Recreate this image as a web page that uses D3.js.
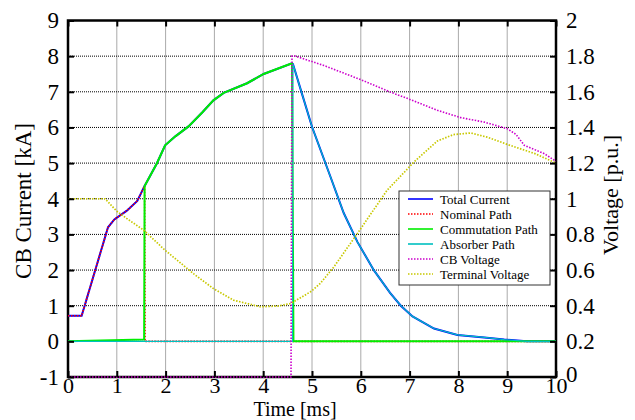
<!DOCTYPE html>
<html>
<head>
<meta charset="utf-8">
<script src="https://cdn.jsdelivr.net/npm/d3@7"></script>
<style>
  body { margin: 0; background: #fff; }
  svg { display: block; }
</style>
</head>
<body>
<div id="chart"></div>
<script>
// fáze 1: proud přes nominální cestu (ms, kA)
const nominalTime    = [0, 0.28, 0.82, 0.95, 1.2, 1.42, 1.57];
const nominalCurrent = [0.72, 0.72, 3.2, 3.42, 3.66, 3.94, 4.36];
// fáze 2: komutační cesta
const commTime    = [1.57, 1.82, 1.99, 2.2, 2.47, 2.75, 2.98, 3.19, 3.67, 4.01, 4.59];
const commCurrent = [4.36, 4.99, 5.5, 5.75, 6.03, 6.42, 6.76, 6.97, 7.24, 7.5, 7.8];
// fáze 3: absorbér
const absTime    = [4.61, 4.8, 5.0, 5.38, 5.65, 5.93, 6.27, 6.6, 6.82, 7.06, 7.5, 7.98, 8.53, 8.94, 9.4, 10];
const absCurrent = [7.78, 6.92, 6.02, 4.61, 3.6, 2.79, 1.99, 1.36, 1.0, 0.7, 0.36, 0.18, 0.11, 0.05, 0.0, 0];
// napětí (p.u.)
const cbTime    = [0, 4.57, 4.59, 4.66, 5.24, 6.0, 6.61, 7.02, 7.57, 8.05, 8.53, 9.0, 9.18, 9.35, 9.76, 10];
const cbVoltage = [0, 0, 1.8, 1.8, 1.748, 1.668, 1.598, 1.556, 1.496, 1.455, 1.43, 1.393, 1.361, 1.3, 1.253, 1.21];
const termTime    = [0, 0.76, 1.0, 1.2, 1.55, 1.99, 2.57, 2.98, 3.39, 3.94, 4.3, 4.56, 4.97, 5.17, 5.45, 5.93, 6.54, 7.09, 7.57, 7.9, 8.25, 8.6, 9.0, 9.57, 10];
const termVoltage = [1, 1, 0.93, 0.89, 0.824, 0.711, 0.58, 0.496, 0.431, 0.394, 0.398, 0.412, 0.478, 0.525, 0.618, 0.805, 1.048, 1.206, 1.324, 1.36, 1.369, 1.345, 1.305, 1.253, 1.2];

const xTicks = d3.range(0, 11);
const yLeftTicks = d3.range(-1, 10);
const yRightTicks = [0, 0.2, 0.4, 0.6, 0.8, 1, 1.2, 1.4, 1.6, 1.8, 2];
const legendNames = ["Total Current", "Nominal Path", "Commutation Path", "Absorber Path", "CB Voltage", "Terminal Voltage"];

const W = 635, H = 420;
const mLeft = 68, mRight = 556, mTop = 20.5, mBottom = 377;
const FONT = "Liberation Serif, Times New Roman, DejaVu Serif, serif";

const zip = (t, v) => t.map((d, i) => [d, v[i]]);

// sestavení sérií
const totalSeries = zip(nominalTime, nominalCurrent)
  .concat(zip(commTime, commCurrent).slice(1))
  .concat(zip(absTime, absCurrent));
const nominalSeries = zip(nominalTime, nominalCurrent).concat([[1.58, 0], [10, 0]]);
const commSeries = [[0, 0], [1.56, 0.05]].concat(zip(commTime, commCurrent)).concat([[4.62, 0], [10, 0]]);
const absSeries = [[0, 0], [4.6, 0]].concat(zip(absTime, absCurrent));
const cbSeries = zip(cbTime, cbVoltage);
const termSeries = zip(termTime, termVoltage);

const X = d3.scaleLinear().domain([0, 10]).range([mLeft, mRight]);
const YL = d3.scaleLinear().domain([-1, 9]).range([mBottom, mTop]);
const YR = d3.scaleLinear().domain([0, 2]).range([mBottom, mTop]);

const svg = d3.select("#chart").append("svg")
  .attr("width", W)
  .attr("height", H)
  .attr("font-family", FONT);

// mřížka
const grid = svg.append("g");
grid.selectAll("line.gx")
  .data(xTicks.slice(1, -1))
  .join("line")
  .attr("class", "gx")
  .attr("x1", d => X(d)).attr("x2", d => X(d))
  .attr("y1", mTop).attr("y2", mBottom)
  .attr("stroke", "#555").attr("stroke-width", 1)
  .attr("stroke-dasharray", "1,1");
grid.selectAll("line.gy")
  .data(yLeftTicks.slice(1, -1))
  .join("line")
  .attr("class", "gy")
  .attr("x1", mLeft).attr("x2", mRight)
  .attr("y1", d => YL(d)).attr("y2", d => YL(d))
  .attr("stroke", "#000").attr("stroke-width", 1)
  .attr("stroke-dasharray", "1,1");

// rámeček
svg.append("rect")
  .attr("x", mLeft).attr("y", mTop)
  .attr("width", mRight - mLeft).attr("height", mBottom - mTop)
  .attr("fill", "none").attr("stroke", "#000").attr("stroke-width", 2.5);

const lineL = d3.line().x(d => X(d[0])).y(d => YL(d[1]));
const lineR = d3.line().x(d => X(d[0])).y(d => YR(d[1]));

const series = [
  { d: totalSeries, f: lineL, color: "#0000ff", w: 2, dash: null },
  { d: nominalSeries, f: lineL, color: "#ff0000", w: 1.6, dash: "1.5,1.5" },
  { d: commSeries, f: lineL, color: "#00ee00", w: 2, dash: null },
  { d: absSeries, f: lineL, color: "#00c0c0", w: 1.2, dash: null },
  { d: cbSeries, f: lineR, color: "#cc00cc", w: 1.6, dash: "1.5,1.5" },
  { d: termSeries, f: lineR, color: "#c8c800", w: 1.7, dash: "1.5,1.5" }
];

svg.append("g").selectAll("path")
  .data(series)
  .join("path")
  .attr("d", s => s.f(s.d))
  .attr("fill", "none")
  .attr("stroke", s => s.color)
  .attr("stroke-width", s => s.w)
  .attr("stroke-dasharray", s => s.dash);

// osy
const fmt = d => String(d);
const axL = svg.append("g").attr("transform", `translate(${mLeft},0)`)
  .call(d3.axisLeft(YL).tickValues(yLeftTicks).tickFormat(fmt).tickSize(-6).tickPadding(9).tickSizeOuter(0));
const axR = svg.append("g").attr("transform", `translate(${mRight},0)`)
  .call(d3.axisRight(YR).tickValues(yRightTicks).tickFormat(fmt).tickSize(-6).tickPadding(10).tickSizeOuter(0));
const axB = svg.append("g").attr("transform", `translate(0,${mBottom})`)
  .call(d3.axisBottom(X).tickValues(xTicks).tickFormat(fmt).tickSize(-6).tickPadding(2).tickSizeOuter(0));
const axT = svg.append("g").attr("transform", `translate(0,${mTop})`)
  .call(d3.axisTop(X).tickValues(xTicks).tickSize(-6).tickFormat("").tickSizeOuter(0));

[axL, axR, axB, axT].forEach(a => {
  a.attr("font-family", FONT).attr("font-size", 23);
  a.select(".domain").remove();
  a.selectAll(".tick line").attr("stroke", "#000").attr("stroke-width", 2);
  a.selectAll("text").attr("fill", "#000");
});
axB.attr("font-size", 22);
axB.selectAll("text").attr("dy", "0.64em");
axR.selectAll(".tick").filter(d => d === 0).select("text").attr("dy", "0.2em");

// popisky os
const label = (tr, txt, size) => svg.append("text")
  .attr("transform", tr)
  .attr("text-anchor", "middle")
  .attr("font-size", size)
  .attr("fill", "#000")
  .text(txt);
label("translate(31,201) rotate(-90)", "CB Current [kA]", 23);
label("translate(618,195) rotate(-90)", "Voltage [p.u.]", 22);
label("translate(295,415.5)", "Time [ms]", 20);

// legenda
const lg = svg.append("g").attr("transform", "translate(399,191)");
lg.append("rect")
  .attr("width", 151).attr("height", 94)
  .attr("fill", "#fff").attr("stroke", "#333").attr("stroke-width", 1);
const items = lg.selectAll("g.item")
  .data(series)
  .join("g")
  .attr("class", "item")
  .attr("transform", (d, i) => `translate(0,${8 + i * 15})`);
items.append("line")
  .attr("x1", 9).attr("x2", 34)
  .attr("stroke", s => s.color)
  .attr("stroke-width", 1.6)
  .attr("stroke-dasharray", s => s.dash);
items.append("text")
  .attr("x", 41).attr("dy", "0.35em")
  .attr("font-size", 13)
  .attr("fill", "#000")
  .text((d, i) => legendNames[i]);
</script>
</body>
</html>
